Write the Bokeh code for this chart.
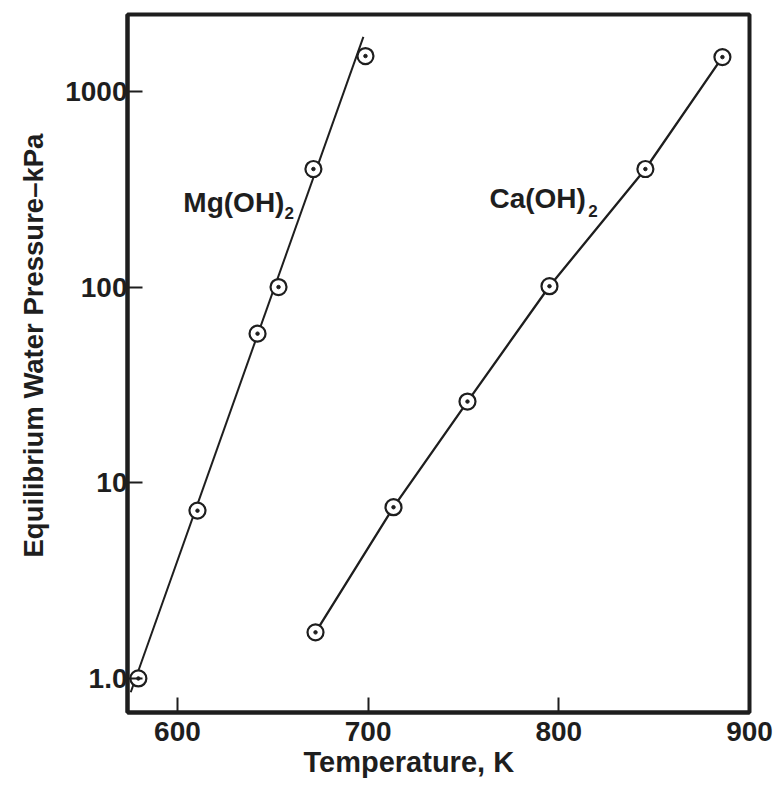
from bokeh.plotting import figure
from bokeh.models import Label, FixedTicker, Title
from bokeh.embed import file_html
from bokeh.resources import INLINE

# ---- data ----
mg_T = [579.5, 610.5, 642.0, 653.0, 671.3, 698.6]
mg_P = [1.0, 7.2, 57.8, 100.0, 401.0, 1515.0]
mg_fit_T = [575.5, 697.5]
mg_fit_P = [0.85, 1900.0]

ca_T = [672.4, 713.3, 752.1, 795.1, 845.4, 885.8]
ca_P = [1.72, 7.5, 26.0, 101.0, 401.0, 1496.0]

x_ticks = [600, 700, 800, 900]
y_ticks = [1, 10, 100, 1000]
y_tick_labels = ["1.0", "10", "100", "1000"]

FONT = "Liberation Sans"
INK = "#1e1e1e"

p = figure(width=774, height=782,
           x_range=(573.8, 900), y_range=(0.67, 2470),
           y_axis_type="log",
           output_backend="svg", toolbar_location=None,
           min_border_left=127, min_border_right=25,
           min_border_top=14, min_border_bottom=70)

p.grid.visible = False
p.outline_line_color = INK
p.outline_line_width = 4
p.background_fill_color = "white"
p.border_fill_color = "white"

for ax in (p.xaxis, p.yaxis):
    ax.axis_line_color = INK
    ax.axis_line_width = 4
    ax.major_tick_in = 15
    ax.major_tick_out = 0
    ax.major_tick_line_width = 2
    ax.major_tick_line_color = INK
    ax.minor_tick_line_color = None
    ax.major_label_text_font = FONT
    ax.major_label_text_font_style = "bold"
    ax.major_label_text_font_size = "28px"
    ax.major_label_text_color = INK

p.xaxis.ticker = FixedTicker(ticks=x_ticks)
p.xaxis.major_label_standoff = 9
p.yaxis.ticker = FixedTicker(ticks=y_ticks)
p.yaxis.major_label_overrides = {t: s for t, s in zip(y_ticks, y_tick_labels)}
p.yaxis.major_label_standoff = 0

# lines
p.line(mg_fit_T, mg_fit_P, line_color=INK, line_width=2)
p.line(ca_T, ca_P, line_color=INK, line_width=2.3)

# markers: open circle with a centre dot
for T, P in ((mg_T, mg_P), (ca_T, ca_P)):
    p.scatter(T, P, marker="circle", size=16, fill_color="white",
              line_color=INK, line_width=2.2)
    p.scatter(T, P, marker="circle", size=3.5, fill_color=INK, line_color=INK)

# series labels
def chem(x, y, base, sx, sy):
    p.add_layout(Label(x=x, y=y, text=base, text_font=FONT,
                       text_font_style="bold", text_font_size="28px",
                       text_color=INK, text_baseline="alphabetic",
                       text_align="left"))
    p.add_layout(Label(x=sx, y=sy, text="2", text_font=FONT,
                       text_font_style="bold", text_font_size="17px",
                       text_color=INK, text_baseline="alphabetic",
                       text_align="left"))

chem(603.1, 270.7, "Mg(OH)", 656.2, 240.3)
chem(763.6, 283.6, "Ca(OH)", 815.5, 246.0)

# axis titles as panel titles (offset along the axis)
p.add_layout(Title(text="Temperature, K", text_font=FONT,
                   text_font_style="bold", text_font_size="29px",
                   text_color=INK, align="left", offset=176,
                   standoff=0), "below")
p.add_layout(Title(text="Equilibrium Water Pressure\u2013kPa", text_font=FONT,
                   text_font_style="bold", text_font_size="27.5px",
                   text_color=INK, align="left", offset=155,
                   standoff=28), "left")

open("out.html", "w").write(file_html(p, INLINE))
